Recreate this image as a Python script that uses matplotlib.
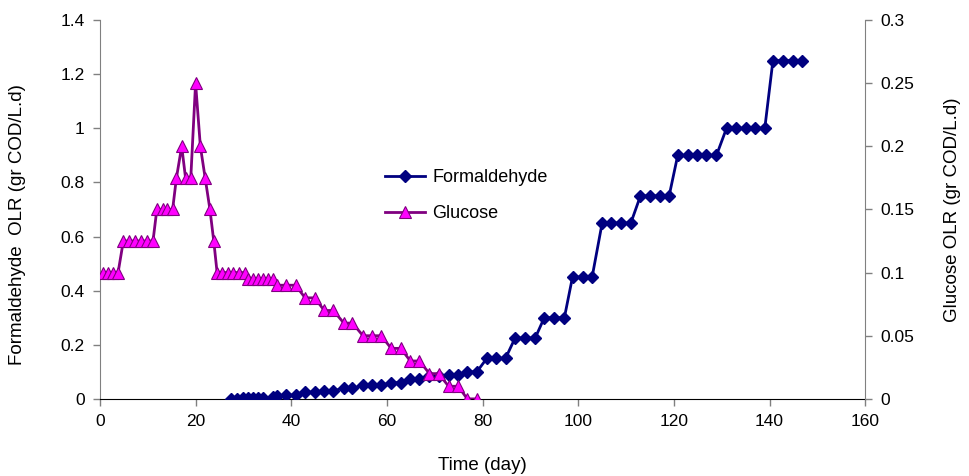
import matplotlib
matplotlib.use("Agg")
import matplotlib.pyplot as plt
from matplotlib.ticker import FuncFormatter, MultipleLocator

plt.rcParams['font.family'] = ['Liberation Sans', 'DejaVu Sans']

# Glucose OLR (right axis, gr COD/L.d)
glu_days = [0.7, 1.7, 2.8, 3.8,
            4.9, 6.1, 7.3, 8.5, 9.8, 11.1,
            11.9, 13.1, 14.1, 15.2,
            16.0, 17.1, 17.9, 19.0, 20.0, 21.0, 22.0, 23.0, 23.8,
            24.5, 25.6, 26.8, 27.9, 29.0, 30.3,
            31.0, 32.1, 33.1, 34.2, 35.2, 36.1,
            37.0, 38.9, 40.9,
            42.9, 44.9, 46.9, 48.8, 51.0, 52.8,
            55.0, 56.9, 58.8, 60.9, 62.9, 64.9, 66.8,
            68.9, 70.8, 72.9, 74.9, 76.8, 78.8]
glu_olr = [0.1, 0.1, 0.1, 0.1,
           0.125, 0.125, 0.125, 0.125, 0.125, 0.125,
           0.15, 0.15, 0.15, 0.15,
           0.175, 0.2, 0.175, 0.175, 0.25, 0.2, 0.175, 0.15, 0.125,
           0.1, 0.1, 0.1, 0.1, 0.1, 0.1,
           0.095, 0.095, 0.095, 0.095, 0.095, 0.095,
           0.09, 0.09, 0.09,
           0.08, 0.08, 0.07, 0.07, 0.06, 0.06,
           0.05, 0.05, 0.05, 0.04, 0.04, 0.03, 0.03,
           0.02, 0.02, 0.01, 0.01, 0.0, 0.0]

# Formaldehyde OLR (left axis, gr COD/L.d)
form_days = [27.5, 28.7, 29.9, 31.0, 32.1, 33.1, 34.2, 36.1,
             37.0, 38.9, 40.9, 42.9, 44.9, 46.9, 48.8, 51.0, 52.8,
             55.0, 56.9, 58.8, 60.9, 62.9, 64.9, 66.8, 68.9, 70.8,
             72.9, 74.9, 76.8, 78.8,
             80.9, 82.8, 84.8, 86.8, 88.8, 91.0, 92.9, 95.0, 97.1,
             98.8, 100.9, 102.9,
             105.0, 106.9, 108.9, 111.0,
             113.0, 115.1, 117.0, 119.0,
             120.8, 122.9, 124.8, 126.8, 128.9,
             131.0, 133.0, 135.1, 137.0, 139.0,
             140.7, 142.8, 144.8, 146.8]
form_olr = [0.0, 0.0, 0.002, 0.003, 0.004, 0.005, 0.005, 0.006,
            0.012, 0.013, 0.015, 0.025, 0.025, 0.03, 0.03, 0.04, 0.04,
            0.05, 0.05, 0.05, 0.06, 0.06, 0.075, 0.075, 0.083, 0.083,
            0.09, 0.09, 0.1, 0.1,
            0.15, 0.15, 0.15, 0.225, 0.225, 0.225, 0.3, 0.3, 0.3,
            0.45, 0.45, 0.45,
            0.65, 0.65, 0.65, 0.65,
            0.75, 0.75, 0.75, 0.75,
            0.9, 0.9, 0.9, 0.9, 0.9,
            1.0, 1.0, 1.0, 1.0, 1.0,
            1.25, 1.25, 1.25, 1.25]

fig = plt.figure(figsize=(9.7, 4.76), dpi=100)
ax = fig.add_axes([0.103, 0.162, 0.789, 0.796])
ax2 = ax.twinx()

l1, = ax.plot(form_days, form_olr, color='#000080', lw=2.0, marker='D',
              ms=6, mfc='#000080', mec='#000080', label='Formaldehyde', zorder=3)
l2, = ax2.plot(glu_days, glu_olr, color='#800080', lw=2.0, marker='^',
               ms=8, mfc='#FF00FF', mec='#800080', mew=0.8, label='Glucose', zorder=3)

ax.set_xlim(0, 160)
ax.set_ylim(0, 1.4)
ax2.set_ylim(0, 0.3)
ax.xaxis.set_major_locator(MultipleLocator(20))
ax.yaxis.set_major_locator(MultipleLocator(0.2))
ax2.yaxis.set_major_locator(MultipleLocator(0.05))
fmt = FuncFormatter(lambda v, p: ('%.2f' % v).rstrip('0').rstrip('.') if v != 0 else '0')
ax.yaxis.set_major_formatter(fmt)
ax2.yaxis.set_major_formatter(fmt)

for a in (ax, ax2):
    a.spines['top'].set_visible(False)
    a.tick_params(direction='out', length=5, width=1, color='#808080',
                  labelsize=12.5, pad=6)
ax.spines['left'].set_color('#808080')
ax2.spines['right'].set_color('#808080')
ax2.spines['left'].set_visible(False)
ax.spines['right'].set_visible(False)
ax2.spines['bottom'].set_visible(False)
ax.spines['bottom'].set_color('black')

ax.set_xlabel('Time (day)', fontsize=13.5, labelpad=20)
ax.set_ylabel('Formaldehyde  OLR (gr COD/L.d)', fontsize=13.5)
ax.yaxis.set_label_coords(-0.096, 0.46)
ax2.set_ylabel('Glucose OLR (gr COD/L.d)', fontsize=13.5, labelpad=21)

leg = fig.legend(handles=[l1, l2], loc='upper left',
                 bbox_to_anchor=(378 / 970, 1 - 162 / 476),
                 frameon=False, fontsize=13, numpoints=1,
                 handlelength=2.2, handletextpad=0.4, labelspacing=1.05,
                 borderaxespad=0)

fig.savefig('out.png', dpi=100)
